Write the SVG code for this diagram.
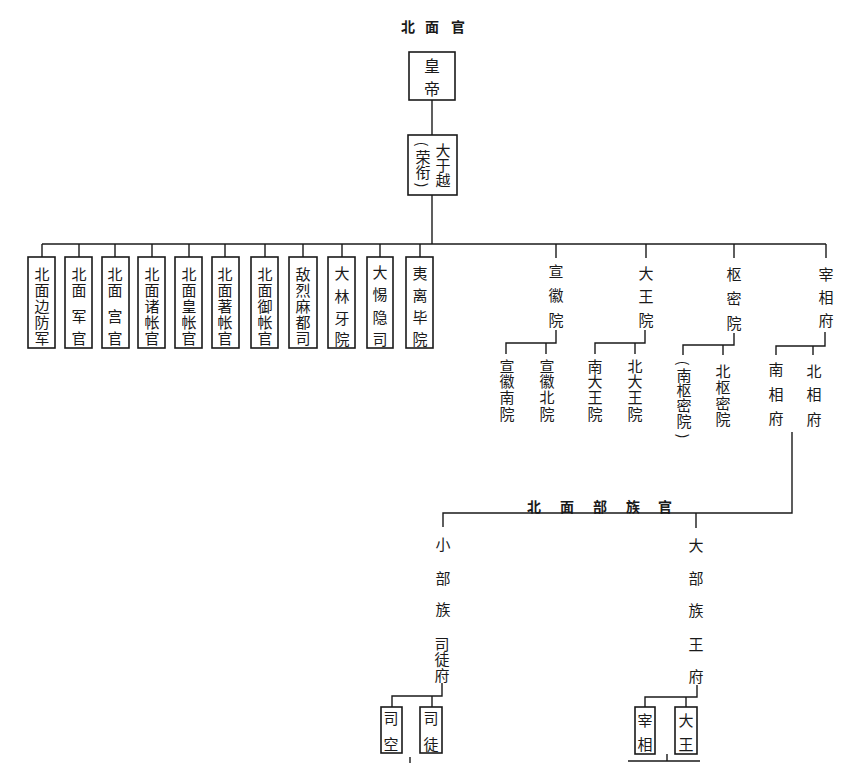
<svg xmlns="http://www.w3.org/2000/svg" width="865" height="763" viewBox="0 0 865 763">
<style>
  text { font-family: "Noto Sans CJK SC", "Noto Sans CJK TC", sans-serif; fill: #1a1a1a; text-anchor: middle; dominant-baseline: central; font-size: 15px; }
  .title { font-size: 14px; font-weight: bold; }
  .box { fill: #fff; stroke: #1a1a1a; stroke-width: 1.6; }
  .ln { stroke: #1a1a1a; stroke-width: 1.4; fill: none; }
  .big { font-size: 16px; }
  .p { font-size: 14px; }
</style>
<rect width="865" height="763" fill="#fff"/>

<g id="title">
  <text class="title" x="408" y="26">北</text>
  <text class="title" x="432" y="26">面</text>
  <text class="title" x="458" y="26">官</text>
</g>

<g id="connectors">
  <path class="ln" d="M432 100 V135"/>
  <path class="ln" d="M432 195 V244"/>
  <path class="ln" d="M42 244 H826"/>
  <path class="ln" d="M42 244 V257 M79 244 V257 M115 244 V257 M152 244 V257 M189 244 V257 M225 244 V257 M265 244 V257 M303 244 V257 M342 244 V257 M380 244 V257 M420 244 V257"/>
  <path class="ln" d="M556 244 V258 M646 244 V258 M734 244 V258 M826 244 V258"/>
  <path class="ln" d="M556 330 V343 H506 V354 M546 343 V354"/>
  <path class="ln" d="M645 330 V343 H595 V354 M635 343 V354"/>
  <path class="ln" d="M734 333 V345 H683 V355 M723 345 V355"/>
  <path class="ln" d="M825 332 V346 H776 V355 M813 346 V355"/>
  <path class="ln" d="M792 432 V513 H443 V527 M696 513 V528"/>
  <path class="ln" d="M442 683 V696 H392 V707 M432 696 V707"/>
  <path class="ln" d="M697 685 V697 H645 V707 M686 697 V707"/>
  <path class="ln" d="M410 757 V763"/>
  <path class="ln" d="M667 754 V761 M628 761 H700"/>
</g>

<g id="emperor">
  <rect class="box" x="409" y="52" width="46" height="48"/>
  <text class="big" x="432" y="65">皇</text>
  <text class="big" x="432" y="88">帝</text>
</g>

<g id="dayuyue">
  <rect class="box" x="408" y="135" width="49" height="60"/>
  <text x="443" y="149">大</text>
  <text x="443" y="164">于</text>
  <text x="443" y="179">越</text>
  <text class="p" x="423" y="144" transform="rotate(90 423 144)">(</text>
  <text x="423" y="156">荣</text>
  <text x="423" y="171">衔</text>
  <text class="p" x="423" y="185" transform="rotate(90 423 185)">)</text>
</g>

<g id="b1">
  <rect class="box" x="28" y="257" width="27" height="91"/>
  <text x="42" y="273">北</text><text x="42" y="289">面</text><text x="42" y="305">边</text><text x="42" y="321">防</text><text x="42" y="337">军</text>
</g>
<g id="b2">
  <rect class="box" x="65" y="257" width="27" height="91"/>
  <text x="79" y="273">北</text><text x="79" y="289">面</text><text x="79" y="315">军</text><text x="79" y="337">官</text>
</g>
<g id="b3">
  <rect class="box" x="102" y="257" width="27" height="91"/>
  <text x="115" y="273">北</text><text x="115" y="289">面</text><text x="115" y="315">宫</text><text x="115" y="337">官</text>
</g>
<g id="b4">
  <rect class="box" x="138" y="257" width="27" height="91"/>
  <text x="152" y="273">北</text><text x="152" y="289">面</text><text x="152" y="305">诸</text><text x="152" y="321">帐</text><text x="152" y="337">官</text>
</g>
<g id="b5">
  <rect class="box" x="175" y="257" width="27" height="91"/>
  <text x="189" y="273">北</text><text x="189" y="289">面</text><text x="189" y="305">皇</text><text x="189" y="321">帐</text><text x="189" y="337">官</text>
</g>
<g id="b6">
  <rect class="box" x="212" y="257" width="27" height="91"/>
  <text x="225" y="273">北</text><text x="225" y="289">面</text><text x="225" y="305">著</text><text x="225" y="321">帐</text><text x="225" y="337">官</text>
</g>
<g id="b7">
  <rect class="box" x="251" y="257" width="27" height="91"/>
  <text x="265" y="273">北</text><text x="265" y="289">面</text><text x="265" y="305">御</text><text x="265" y="321">帐</text><text x="265" y="337">官</text>
</g>
<g id="b8">
  <rect class="box" x="289" y="257" width="28" height="91"/>
  <text x="303" y="273">敌</text><text x="303" y="289">烈</text><text x="303" y="305">麻</text><text x="303" y="321">都</text><text x="303" y="337">司</text>
</g>
<g id="b9">
  <rect class="box" x="328" y="257" width="27" height="91"/>
  <text x="342" y="272">大</text><text x="342" y="295">林</text><text x="342" y="317">牙</text><text x="342" y="338">院</text>
</g>
<g id="b10">
  <rect class="box" x="367" y="257" width="26" height="91"/>
  <text x="380" y="271">大</text><text x="380" y="293">惕</text><text x="380" y="316">隐</text><text x="380" y="338">司</text>
</g>
<g id="b11">
  <rect class="box" x="406" y="257" width="27" height="91"/>
  <text x="420" y="272">夷</text><text x="420" y="294">离</text><text x="420" y="316">毕</text><text x="420" y="338">院</text>
</g>

<g id="xuanhuiyuan">
  <text x="556" y="270">宣</text><text x="556" y="294">徽</text><text x="556" y="319">院</text>
</g>
<g id="xuanhuinan">
  <text x="507" y="365">宣</text><text x="507" y="380">徽</text><text x="507" y="396">南</text><text x="507" y="413">院</text>
</g>
<g id="xuanhuibei">
  <text x="547" y="365">宣</text><text x="547" y="380">徽</text><text x="547" y="396">北</text><text x="547" y="413">院</text>
</g>

<g id="dawangyuan">
  <text x="646" y="272">大</text><text x="646" y="295">王</text><text x="646" y="319">院</text>
</g>
<g id="nandawang">
  <text x="595" y="365">南</text><text x="595" y="380">大</text><text x="595" y="396">王</text><text x="595" y="413">院</text>
</g>
<g id="beidawang">
  <text x="635" y="365">北</text><text x="635" y="380">大</text><text x="635" y="396">王</text><text x="635" y="413">院</text>
</g>

<g id="shumiyuan">
  <text x="734" y="273">枢</text><text x="734" y="297">密</text><text x="734" y="322">院</text>
</g>
<g id="nanshumi">
  <text class="p" x="684" y="363" transform="rotate(90 684 363)">(</text>
  <text x="684" y="374">南</text><text x="684" y="389">枢</text><text x="684" y="404">密</text><text x="684" y="420">院</text>
  <text class="p" x="684" y="436" transform="rotate(90 684 436)">)</text>
</g>
<g id="beishumi">
  <text x="723" y="370">北</text><text x="723" y="386">枢</text><text x="723" y="402">密</text><text x="723" y="418">院</text>
</g>

<g id="zaixiangfu">
  <text x="826" y="273">宰</text><text x="826" y="296">相</text><text x="826" y="319">府</text>
</g>
<g id="nanxiangfu">
  <text x="776" y="368">南</text><text x="776" y="393">相</text><text x="776" y="417">府</text>
</g>
<g id="beixiangfu">
  <text x="814" y="370">北</text><text x="814" y="393">相</text><text x="814" y="418">府</text>
</g>

<g id="buzuguan">
  <text class="title" x="534" y="506">北</text><text class="title" x="567" y="506">面</text><text class="title" x="600" y="506">部</text><text class="title" x="633" y="506">族</text><text class="title" x="665" y="506">官</text>
</g>

<g id="xiaobuzu">
  <text x="443" y="543">小</text><text x="443" y="577">部</text><text x="443" y="608">族</text>
  <text x="442" y="643">司</text><text x="442" y="658">徒</text><text x="442" y="674">府</text>
</g>
<g id="sikong">
  <rect class="box" x="381" y="707" width="21" height="46"/>
  <text x="391" y="717">司</text><text x="391" y="743">空</text>
</g>
<g id="situ">
  <rect class="box" x="420" y="707" width="22" height="46"/>
  <text x="431" y="717">司</text><text x="431" y="743">徒</text>
</g>

<g id="dabuzu">
  <text x="696" y="544">大</text><text x="696" y="577">部</text><text x="696" y="609">族</text>
  <text x="696" y="643">王</text><text x="696" y="675">府</text>
</g>
<g id="zaixiang">
  <rect class="box" x="635" y="707" width="20" height="47"/>
  <text x="645" y="719">宰</text><text x="645" y="743">相</text>
</g>
<g id="dawang">
  <rect class="box" x="675" y="707" width="22" height="47"/>
  <text x="686" y="719">大</text><text x="686" y="743">王</text>
</g>
</svg>
